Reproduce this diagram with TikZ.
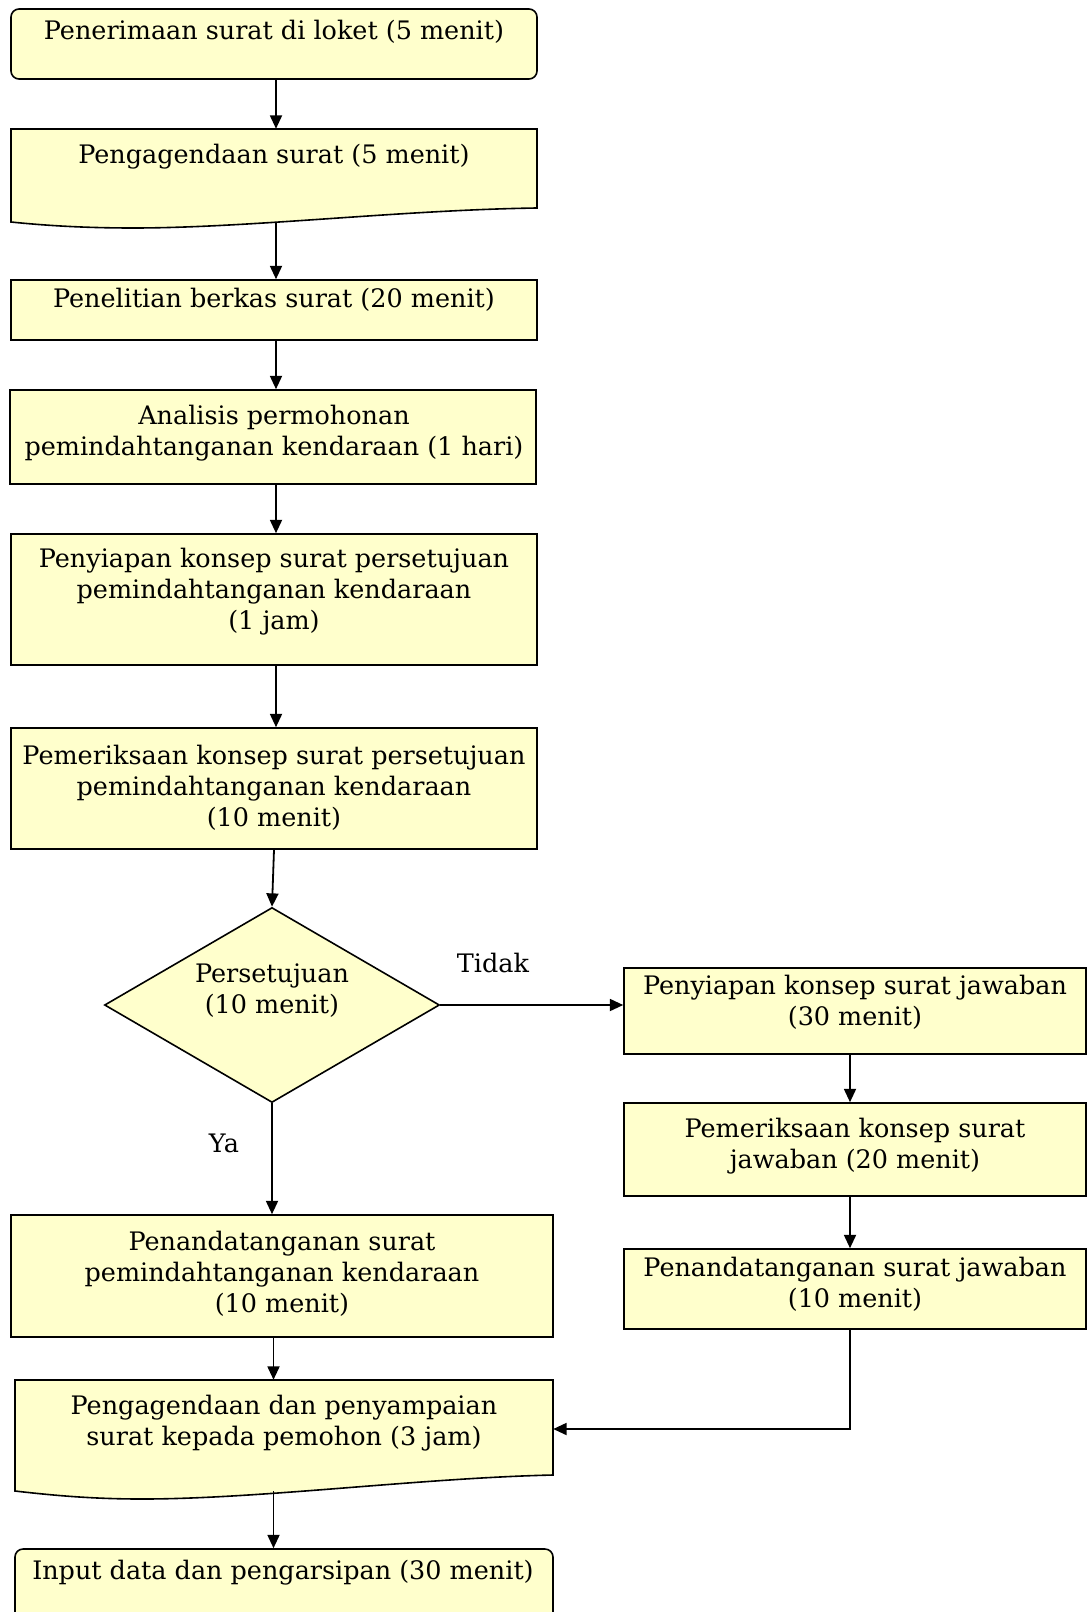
\documentclass[tikz,border=0pt]{standalone}
\usepackage{fontspec}
\setmainfont{DejaVu Serif}
\usetikzlibrary{shapes.geometric,arrows.meta,calc}
\definecolor{boxfill}{RGB}{255,255,204}
\tikzset{
  box/.style={draw=black, line width=1.2pt, fill=boxfill, rectangle, inner sep=0pt},
  rbox/.style={box, rounded corners=6pt},
  ghost/.style={draw=none, fill=none, rectangle, inner sep=0pt},
  docshape/.style={draw=black, line width=1.2pt, fill=boxfill},
  dec/.style={draw=black, line width=1.2pt, fill=boxfill, diamond, inner sep=0pt},
  txt/.style={align=center, inner sep=0pt, font=\fontsize{19.1}{23.25}\selectfont},
  arr/.style={draw=black, line width=1.35pt, -{Triangle[length=10pt,width=9pt]}},
}
\begin{document}
\begin{tikzpicture}[x=0.75pt,y=-0.75pt]
\useasboundingbox[fill=white] (0,0) rectangle (1087,1612);
% column coordinates for connectors
\coordinate (colA) at (276,0);
\coordinate (colB) at (273.5,0);
\coordinate (colR) at (850,0);
% boxes
\node[rbox, minimum width=394.5pt, minimum height=52.5pt] (b1) at (274,44) {};
\node[ghost, minimum width=394.5pt, minimum height=69.75pt] (b2) at (274,175.5) {};
\draw[docshape] (11,129) -- (537,129) -- (537,208) .. controls (400,210) and (250,228) .. (133,228) .. controls (80,228) and (40,225) .. (11,222) -- cycle;
\node[box, minimum width=394.5pt, minimum height=45pt] (b3) at (274,310) {};
\node[box, minimum width=394.5pt, minimum height=70.5pt] (b4) at (273,437) {};
\node[box, minimum width=394.5pt, minimum height=98.25pt] (b5) at (274,599.5) {};
\node[box, minimum width=394.5pt, minimum height=90.75pt] (b6) at (274,788.5) {};
\node[dec, minimum width=251.25pt, minimum height=146.25pt] (d) at (272,1005) {};
\node[box, minimum width=346.5pt, minimum height=64.5pt] (r1) at (855,1011) {};
\node[box, minimum width=346.5pt, minimum height=69.75pt] (r2) at (855,1149.5) {};
\node[box, minimum width=346.5pt, minimum height=60pt] (r3) at (855,1289) {};
\node[box, minimum width=406.5pt, minimum height=91.5pt] (b7) at (282,1276) {};
\node[ghost, minimum width=403.5pt, minimum height=83.25pt] (b8) at (284,1435.5) {};
\draw[docshape] (15,1380) -- (553,1380) -- (553,1475) .. controls (420,1478) and (260,1499) .. (142,1499) .. controls (90,1499) and (50,1495) .. (15,1491) -- cycle;
\node[rbox, minimum width=403.5pt, minimum height=68.25pt] (b9) at (284,1594.5) {};
% texts
\node[txt] (t1) at (274,32) {Penerimaan surat di loket (5 menit)};
\node[txt] (t2) at (274,157) {Pengagendaan surat (5 menit)};
\node[txt] (t3) at (274,300) {Penelitian berkas surat (20 menit)};
\node[txt] (t4) at (274,433.5) {Analisis permohonan\\pemindahtanganan kendaraan (1 hari)};
\node[txt] (t5) at (274,592) {Penyiapan konsep surat persetujuan\\pemindahtanganan kendaraan\\(1 jam)};
\node[txt] (t6) at (274,788) {Pemeriksaan konsep surat persetujuan\\pemindahtanganan kendaraan\\(10 menit)};
\node[txt] (td) at (272,990.5) {Persetujuan\\(10 menit)};
\node[txt] (tr1) at (855,1002.5) {Penyiapan konsep surat jawaban\\(30 menit)};
\node[txt] (tr2) at (855,1146.5) {Pemeriksaan konsep surat\\jawaban (20 menit)};
\node[txt] (tr3) at (855,1284) {Penandatanganan surat jawaban\\(10 menit)};
\node[txt] (t7) at (282,1274) {Penandatanganan surat\\pemindahtanganan kendaraan\\(10 menit)};
\node[txt] (t8) at (284,1423.5) {Pengagendaan dan penyampaian\\surat kepada pemohon (3 jam)};
\node[txt] (t9) at (283,1573) {Input data dan pengarsipan (30 menit)};
\node[txt] (tidak) at (493,963) {Tidak};
\node[txt] (ya) at (224,1143) {Ya};
% connectors
\draw[arr] (b1.south -| colA) -- (b2.north -| colA);
\draw[arr] (b2.south -| colA) -- (b3.north -| colA);
\draw[arr] (b3.south -| colA) -- (b4.north -| colA);
\draw[arr] (b4.south -| colA) -- (b5.north -| colA);
\draw[arr] (b5.south -| colA) -- (b6.north -| colA);
\draw[arr] (b6.south) -- (d.north);
\draw[arr] (d.south) -- (d.south |- b7.north);
\draw[arr] (d.east) -- (d.east -| r1.west);
\draw[arr] (r1.south -| colR) -- (r2.north -| colR);
\draw[arr] (r2.south -| colR) -- (r3.north -| colR);
\coordinate (corner) at (850,1429);
\draw[arr] (r3.south -| colR) -- (corner) -- (corner -| b8.east);
\draw[arr] (b7.south -| colB) -- (b8.north -| colB);
\draw[arr] (b8.south -| colB) -- (b9.north -| colB);
\end{tikzpicture}
\end{document}
